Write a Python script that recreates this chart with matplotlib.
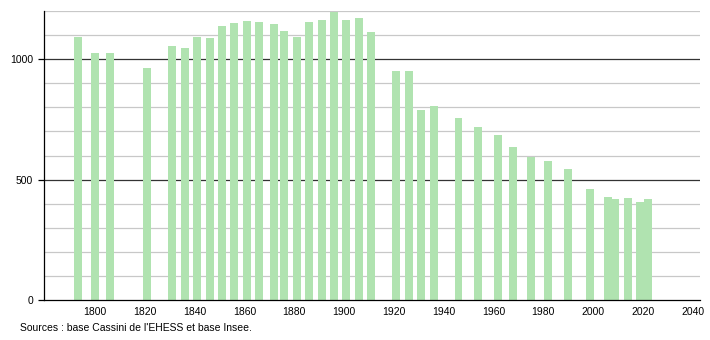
import matplotlib.pyplot as plt

# census years and population
years = [1793, 1800, 1806, 1821, 1831, 1836, 1841, 1846, 1851, 1856,
         1861, 1866, 1872, 1876, 1881, 1886, 1891, 1896, 1901, 1906,
         1911, 1921, 1926, 1931, 1936, 1946, 1954, 1962, 1968, 1975,
         1982, 1990, 1999, 2006, 2009, 2014, 2019, 2022]
population = [1090, 1025, 1025, 965, 1053, 1045, 1094, 1087, 1136, 1149,
              1157, 1153, 1146, 1117, 1090, 1153, 1162, 1194, 1162, 1171,
              1114, 951, 951, 787, 805, 754, 719, 687, 635, 592,
              579, 542, 462, 428, 420, 424, 408, 420]
x_ticks = list(range(1800, 2041, 20))
y_ticks = [0, 500, 1000]
source = "Sources : base Cassini de l'EHESS et base Insee."

plt.rcParams['font.family'] = ['Liberation Sans', 'DejaVu Sans']

fig = plt.figure(figsize=(7.1, 3.4), dpi=100)
ax = fig.add_axes([44 / 710, 40 / 340, 656 / 710, 289 / 340])

# light grid every 100, dark every 500
for v in range(100, 1201, 100):
    if v % 500 == 0:
        ax.axhline(v, color='#333333', lw=0.9, zorder=1)
    else:
        ax.axhline(v, color='#c8c8c8', lw=0.9, zorder=1)

ax.bar(years, population, width=3.2, color='#b0e3b0', zorder=2)

ax.set_xlim(1779.5, 2043)
ax.set_ylim(0, 1200)
ax.set_xticks(x_ticks)
ax.set_yticks(y_ticks)
ax.tick_params(axis='x', length=0, labelsize=7.5, pad=5)
ax.tick_params(axis='y', length=4, width=0.9, labelsize=7.5, pad=4)

for s in ['top', 'right']:
    ax.spines[s].set_visible(False)
for s in ['left', 'bottom']:
    ax.spines[s].set_color('black')
    ax.spines[s].set_linewidth(0.9)

fig.text(20 / 710, 1 - 328 / 340, source, fontsize=7.5, va='center', ha='left')

fig.savefig('out.png', dpi=100)
